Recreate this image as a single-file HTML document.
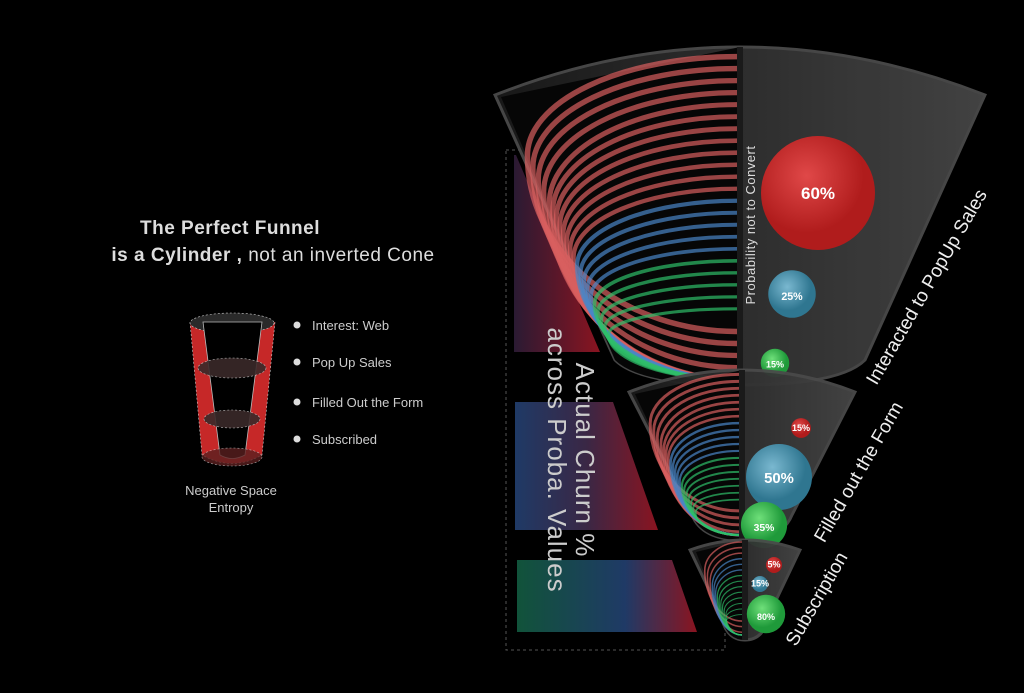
<!DOCTYPE html>
<html><head><meta charset="utf-8"><style>
html,body{margin:0;padding:0;background:#000;width:1024px;height:693px;overflow:hidden;font-family:"Liberation Sans",sans-serif}
</style></head><body>
<svg id="chart" width="1024" height="693" viewBox="0 0 1024 693" xmlns="http://www.w3.org/2000/svg">
<defs>
<linearGradient id="gTop" x1="0" x2="1"><stop offset="0" stop-color="#1a1a1a"/><stop offset="1" stop-color="#464646"/></linearGradient>
<linearGradient id="p1" x1="0" x2="1"><stop offset="0" stop-color="#2a1a33"/><stop offset="1" stop-color="#8a1420"/></linearGradient>
<linearGradient id="p2" x1="0" x2="1"><stop offset="0" stop-color="#1f3a66"/><stop offset="0.5" stop-color="#3a2745"/><stop offset="1" stop-color="#8a1420"/></linearGradient>
<linearGradient id="p3" x1="0" x2="1"><stop offset="0" stop-color="#11533a"/><stop offset="0.6" stop-color="#1f3a66"/><stop offset="1" stop-color="#8a1420"/></linearGradient>
<radialGradient id="bR" cx="0.4" cy="0.35"><stop offset="0" stop-color="#e04848"/><stop offset="1" stop-color="#b01c1c"/></radialGradient>
<radialGradient id="bB" cx="0.4" cy="0.35"><stop offset="0" stop-color="#7ab8d0"/><stop offset="1" stop-color="#2f7690"/></radialGradient>
<radialGradient id="bG" cx="0.4" cy="0.35"><stop offset="0" stop-color="#6fe07a"/><stop offset="1" stop-color="#1f9a3a"/></radialGradient>
</defs>

<text x="230" y="234" fill="#ddd" font-size="19" font-weight="bold" text-anchor="middle" letter-spacing="0.5">The Perfect Funnel</text>
<text x="273" y="261" fill="#ddd" font-size="19" text-anchor="middle" letter-spacing="0.5"><tspan font-weight="bold">is a Cylinder ,</tspan> not an inverted Cone</text>

<g>
<path d="M190 322 L202 455 Q232 472 262 455 L275 322 Z" fill="#c62828" stroke="#ccc" stroke-width="0.6" stroke-dasharray="2 2"/>
<ellipse cx="232" cy="323" rx="42" ry="10" fill="#2a2a2a" stroke="#ccc" stroke-width="0.6" stroke-dasharray="2 2"/>
<path d="M203 322 L220 455 Q232 462 245 455 L262 322 Z" fill="#000" stroke="#bbb" stroke-width="0.8"/>
<ellipse cx="232" cy="368" rx="34" ry="10" fill="#3a2a2a" stroke="#ccc" stroke-width="0.6" stroke-dasharray="2 2" opacity="0.9"/>
<ellipse cx="232" cy="419" rx="28" ry="9" fill="#3a2a2a" stroke="#ccc" stroke-width="0.6" stroke-dasharray="2 2" opacity="0.9"/>
<ellipse cx="232" cy="457" rx="30" ry="9" fill="#5a2020" stroke="#ccc" stroke-width="0.6" stroke-dasharray="2 2" opacity="0.8"/>
</g>
<text x="231" y="495" fill="#ccc" font-size="13" text-anchor="middle">Negative Space</text>
<text x="231" y="512" fill="#ccc" font-size="13" text-anchor="middle">Entropy</text>
<g fill="#ccc" font-size="13">
<circle cx="297" cy="325" r="3.5" fill="#ddd"/><text x="312" y="330">Interest: Web</text>
<circle cx="297" cy="362" r="3.5" fill="#ddd"/><text x="312" y="367">Pop Up Sales</text>
<circle cx="297" cy="402" r="3.5" fill="#ddd"/><text x="312" y="407">Filled Out the Form</text>
<circle cx="297" cy="439" r="3.5" fill="#ddd"/><text x="312" y="444">Subscribed</text>
</g>

<rect x="506" y="150" width="219" height="500" fill="none" stroke="#555" stroke-width="1" stroke-dasharray="3 3"/>
<polygon points="514,155 516,155 600,352 514,352" fill="url(#p1)"/>
<polygon points="515,402 613,402 658,530 515,530" fill="url(#p2)"/>
<polygon points="517,560 672,560 697,632 517,632" fill="url(#p3)"/>

<g id="funnels"></g>

<text transform="translate(560,460) rotate(90)" fill="#ccc" font-size="26" text-anchor="middle" letter-spacing="1"><tspan x="0" dy="-16">Actual Churn %</tspan><tspan x="0" dy="28">across Proba. Values</tspan></text>
<text transform="translate(755,225) rotate(-90)" fill="#ddd" font-size="13" text-anchor="middle" letter-spacing="0.5">Probability not to Convert</text>
<text transform="translate(932,290) rotate(-60)" fill="#eee" font-size="19" text-anchor="middle">Interacted to PopUp Sales</text>
<text transform="translate(864,475) rotate(-60)" fill="#eee" font-size="19" text-anchor="middle">Filled out the Form</text>
<text transform="translate(822,602) rotate(-60)" fill="#eee" font-size="19" text-anchor="middle">Subscription</text>
</svg>
<script>
const stages = ['Interacted to PopUp Sales','Filled out the Form','Subscription'];
const redValues = [60, 15, 5];
const blueValues = [25, 50, 15];
const greenValues = [15, 35, 80];

const NS='http://www.w3.org/2000/svg';
const g=document.getElementById('funnels');
function el(t,a){const e=document.createElementNS(NS,t);for(const k in a)e.setAttribute(k,a[k]);return e;}
const geo=[
 {top:95,bot:385,tw:245,bw:125,rim:48,cx:740,k:0.95,pos:[[818,193],[792,294],[775,363]],lines:[12,5,5],sw:5.5},
 {top:392,bot:540,tw:113,bw:50,rim:22,cx:742,k:0.66,pos:[[801,428],[779,477],[764,525]],lines:[7,5,7],sw:3},
 {top:550,bot:640,tw:55,bw:24,rim:10,cx:745,k:0.24,pos:[[774,565],[760,584],[766,614]],lines:[3,3,8],sw:1.6}
];
const cols=['#d9605f','#4a86c8','#2fbf6a'];
const fills=['url(#bR)','url(#bB)','url(#bG)'];
const sets=[redValues,blueValues,greenValues];
geo.forEach((f,i)=>{
  const fg=el('g',{});
  
  
  const cx=f.cx;
  const body=el('path',{d:`M${cx-f.tw} ${f.top} Q${cx} ${f.top-f.rim*2} ${cx+f.tw} ${f.top} L${cx+f.bw} ${f.bot-25} Q${cx+f.bw*0.8} ${f.bot} ${cx} ${f.bot} Q${cx-f.bw*0.8} ${f.bot} ${cx-f.bw} ${f.bot-25} Z`,fill:'url(#gTop)',stroke:'#4a4a4a','stroke-width':3,opacity:0.95});
  fg.appendChild(body);
  const lh=el('path',{d:`M${cx} ${f.top-f.rim} L${cx-f.tw+6} ${f.top+2} L${cx-f.bw} ${f.bot-25} Q${cx-f.bw*0.8} ${f.bot} ${cx} ${f.bot} Z`,fill:'#060606'});
  fg.appendChild(lh);
  const tot=f.lines[0]+f.lines[1]+f.lines[2];
  const y0=f.top-f.rim*0.8, yEnd=f.bot-5, H=yEnd-y0;
  const edge=y=>{const t=Math.max(0,Math.min(1,(y-f.top)/(f.bot-25-f.top)));return f.tw+(f.bw-f.tw)*t;};
  let idx=0;
  for(let s=0;s<3;s++){
    for(let j=0;j<f.lines[s];j++){
      const y1=y0+idx*(H*0.78/(tot-1));
      const y2=Math.min(y1+H*0.85,yEnd);
      const ym=y1+(y2-y1)*0.36;
      const rx=Math.max(4,edge(ym)-8);
      const w=f.sw*(1-0.45*idx/tot);
      const a=el('path',{d:`M${cx-3} ${y1} A${rx} ${ym-y1} 0 0 0 ${cx-3-rx} ${ym} A${rx} ${y2-ym} 0 0 0 ${cx-3} ${y2}`,fill:'none',stroke:cols[s],'stroke-width':w,opacity:0.7});
      
      
      fg.appendChild(a);idx++;
    }
  }
  fg.appendChild(el('rect',{x:cx-3,y:f.top-f.rim,width:6,height:f.bot-f.top+f.rim,fill:'#1a1a1a'}));
  for(let s=0;s<3;s++){
    const v=sets[s][i];const r=Math.max(8,f.k*v);
    const c=el('circle',{cx:f.pos[s][0],cy:f.pos[s][1],r:r,fill:fills[s]});
    
    
    fg.appendChild(c);
    const t=el('text',{x:f.pos[s][0],y:f.pos[s][1]+Math.min(r*0.3,6),fill:'#fff','font-size':Math.max(9,Math.min(17,r*0.45)),'font-weight':'bold','text-anchor':'middle'});
    t.textContent=v+'%';
    
    
    fg.appendChild(t);
  }
  g.appendChild(fg);
});
</script>
</body></html>
